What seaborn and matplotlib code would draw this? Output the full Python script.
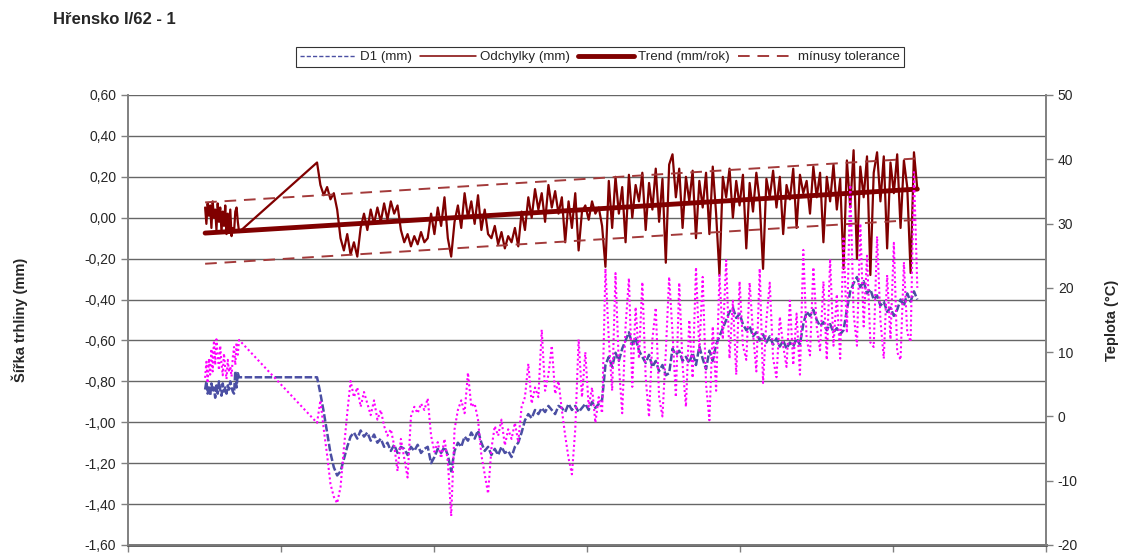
import numpy as np
import pandas as pd
import seaborn as sns
import matplotlib.pyplot as plt
from matplotlib.lines import Line2D
from matplotlib.ticker import FuncFormatter, MultipleLocator

# dny měření od začátku osy: krátké první období a hlavní období
DEN_A_START, DEN_A_KROK = 184, 3
DEN_B_START, DEN_B_KROK = 451, 8

odchylky_a = [0.05, -0.03, 0.07, 0.01, 0.06, -0.05, 0.08, 0.00, 0.04, -0.06,
              0.07, -0.02, 0.05, -0.07, 0.03, -0.04, 0.06, -0.08, 0.02, -0.06,
              0.04, -0.09, -0.05, -0.07, 0.03, 0.05, -0.02, -0.07]
odchylky_b = [0.27, 0.16, 0.11, 0.15, 0.09, 0.12, 0.04, -0.10,
              -0.16, -0.08, -0.18, -0.12, -0.19,
              -0.05, 0.02, -0.06, 0.04, -0.03, 0.05, -0.02,
              0.07, -0.01, 0.08, 0.02, 0.06,
              -0.06, -0.12, -0.08, -0.14, -0.09, -0.13, -0.07, -0.12, -0.10,
              0.02, -0.08, 0.05, -0.04, 0.10, -0.10, -0.19,
              -0.02, 0.06, -0.05, 0.12, 0.00,
              0.08, -0.03, 0.11, -0.06, 0.04, -0.08,
              -0.10, -0.04, -0.13, -0.07, -0.15, -0.09, -0.12, -0.05, -0.14,
              0.03, -0.06, 0.10, 0.00, 0.14, 0.04,
              0.12, -0.02, 0.16, 0.05, 0.13, 0.02,
              0.10, -0.12, 0.08, -0.05, 0.12, -0.16, 0.03,
              0.06, -0.01, 0.08, 0.02, 0.05, -0.04,
              -0.24,
              0.18, -0.05, 0.20, 0.02, 0.15, -0.12, 0.21, 0.00, 0.16,
              0.08, 0.22, -0.06, 0.17, 0.04, 0.24, -0.02, 0.19, -0.22, 0.26,
              0.31, 0.10, 0.24, -0.05, 0.20, 0.08, 0.23, -0.10, 0.18,
              0.05, 0.22, -0.08, 0.25, 0.02, -0.28, 0.20, 0.10, 0.24, 0.00, 0.18,
              0.06, 0.21, -0.15, 0.17, 0.03, 0.22, 0.08, -0.25, 0.19, 0.10,
              0.23, 0.05, 0.20, -0.08, 0.16, 0.09, 0.24, -0.05, 0.21, 0.12,
              0.18, 0.02, 0.25, 0.10, 0.22, -0.12, 0.20, 0.08, 0.26, 0.04, 0.19,
              -0.25, 0.28, 0.05, 0.33, -0.20, 0.25, 0.10, 0.30, -0.28, 0.22,
              0.32, 0.08, 0.30, -0.15, 0.27, 0.12, 0.31, -0.05, 0.28, 0.15, -0.27, 0.32, 0.14]

d1_a = [-0.84, -0.80, -0.86, -0.82, -0.87, -0.81, -0.85, -0.83, -0.88, -0.82,
        -0.86, -0.80, -0.84, -0.87, -0.81, -0.85, -0.83, -0.86, -0.82, -0.84,
        -0.80, -0.83, -0.85, -0.86, -0.75, -0.83, -0.76, -0.78]
d1_b = [-0.78, -0.86, -0.95, -1.05, -1.15, -1.22, -1.26, -1.24,
        -1.18, -1.12, -1.07,
        -1.05, -1.08, -1.04, -1.07, -1.05, -1.09, -1.06, -1.10, -1.08,
        -1.12, -1.10, -1.14, -1.11, -1.15, -1.12, -1.13, -1.16, -1.12, -1.14, -1.11, -1.15, -1.13, -1.12,
        -1.20, -1.17,
        -1.13, -1.15, -1.12, -1.16, -1.24,
        -1.14, -1.10, -1.12, -1.07, -1.09, -1.05, -1.08, -1.04,
        -1.10, -1.14, -1.12, -1.16,
        -1.13, -1.16, -1.12, -1.15, -1.14, -1.17, -1.12, -1.10,
        -1.05, -0.99, -0.96, -0.98, -0.94, -0.96,
        -0.93, -0.95, -0.92, -0.94, -0.96, -0.92, -0.93, -0.95, -0.91, -0.94, -0.92, -0.95, -0.93,
        -0.91, -0.94, -0.90, -0.93, -0.91, -0.89,
        -0.72, -0.68, -0.73, -0.66, -0.70,
        -0.64, -0.60, -0.56, -0.62, -0.59, -0.65,
        -0.68, -0.71, -0.67, -0.73, -0.70, -0.75, -0.72, -0.77, -0.76,
        -0.64, -0.67, -0.65, -0.70, -0.68, -0.71,
        -0.66, -0.72, -0.63, -0.69, -0.74, -0.65, -0.70, -0.62, -0.58,
        -0.54, -0.50, -0.46, -0.44, -0.49, -0.47,
        -0.52, -0.55, -0.53, -0.58, -0.56, -0.60, -0.57, -0.61,
        -0.58, -0.62, -0.59, -0.63, -0.60, -0.64, -0.61, -0.63, -0.59, -0.62,
        -0.52, -0.46, -0.48, -0.45,
        -0.50, -0.53, -0.51, -0.55, -0.52, -0.56, -0.54, -0.57, -0.55,
        -0.45, -0.36, -0.32, -0.29, -0.34, -0.31,
        -0.37, -0.35, -0.40, -0.38, -0.43, -0.41, -0.46, -0.44, -0.48, -0.45,
        -0.40, -0.43, -0.37, -0.41, -0.36, -0.40]

teplota_a = [6.0, 8.5, 5.2, 9.0, 6.5, 10.5, 7.0, 11.8, 8.0, 12.0,
             9.5, 7.2, 11.0, 8.3, 6.4, 9.8, 7.5, 5.8, 8.8, 6.9,
             7.8, 6.2, 9.2, 10.8, 8.0, 11.5, 9.6, 11.9]
teplota_b = [-1.0, 2.5, -2.0, -6.0, -10.5, -12.5, -13.5, -11.0,
             -5.0, 0.5, 5.5,
             3.0, 4.5, 1.5, 3.8, 2.0, 0.2, 2.5, -0.5, 1.0,
             -1.5, -3.0, -2.0, -4.5, -8.5, -3.5, -6.5, -9.5,
             0.0, 1.5, 0.5, 2.0, 1.0, 2.8,
             -3.0, -5.5, -4.0, -6.5, -3.5, -7.0, -15.5,
             -2.0, 1.0, 2.5, 0.5, 6.8, 1.5, 2.0, -0.5,
             -6.0, -9.0, -12.0, -5.0,
             -1.5, -3.0, -0.5, -4.5, -2.0, -3.5, -1.0, -4.0,
             1.5, 3.0, 8.2, 2.0, 4.5, 3.0,
             13.5, 4.0, 6.5, 11.0, 3.5, 5.5,
             1.0, -3.0, -6.5, -9.0, -2.0, 12.0, 3.0,
             10.0, 1.5, 4.5, -1.0, 3.0, 0.5,
             23.0,
             12.0, 4.0, 22.3, 8.0, 0.5, 14.0, 21.5, 4.6, 17.0, 9.0,
             20.9, 6.0, -0.1, 12.0, 16.9, 3.0, 0.0, 10.0, 21.7,
             13.0, 3.0, 20.8, 8.0, 1.5, 15.0, 6.0, 23.2, 10.0,
             21.7, 5.0, -0.6, 14.0, 4.0, 22.0,
             12.0, 24.3, 9.0, 18.0, 6.5, 21.0, 11.0, 8.8, 20.8, 13.0, 7.0, 23.0, 5.2, 15.0,
             20.8, 9.0, 6.1, 15.5, 11.0, 7.7, 18.0, 8.0, 16.0, 6.5,
             25.9, 12.0, 9.5, 23.2, 14.0, 10.3, 21.0, 8.8, 24.5, 11.0, 19.0, 9.0,
             28.0, 13.0, 36.0, 16.0, 11.0, 30.0, 14.0,
             25.0, 11.5, 10.8, 28.0, 15.0, 9.0, 22.0, 12.0, 27.0, 10.0, 8.8, 24.0, 13.0, 11.6, 38.0, 20.0]

# trend a tolerance (začátek a konec měření)
trend_den = [184, 1883]
trend = [-0.075, 0.14]
tolerance_plus = [0.075, 0.29]
tolerance_minus = [-0.225, -0.01]

RED = "#800000"
TOL = "#a33a3a"
BLUE = "#4b4fa3"
MAG = "#ff00ff"

den = np.concatenate([
    DEN_A_START + DEN_A_KROK * np.arange(len(d1_a)),
    DEN_B_START + DEN_B_KROK * np.arange(len(d1_b)),
])
df = pd.DataFrame({
    "den": den,
    "d1": d1_a + d1_b,
    "odchylky": odchylky_a + odchylky_b,
    "teplota": teplota_a + teplota_b,
})
df_trend = pd.DataFrame({"den": trend_den, "trend": trend,
                         "plus": tolerance_plus, "minus": tolerance_minus})

sns.set_theme(style="white")
plt.rcParams["font.family"] = ["Liberation Sans", "DejaVu Sans"]

fig = plt.figure(figsize=(11.3, 5.55), dpi=100)
ax = fig.add_axes([128 / 1130, 10 / 555, 918 / 1130, 450 / 555])
ax2 = ax.twinx()

sns.lineplot(data=df, x="den", y="d1", ax=ax, color=BLUE, linewidth=1.8,
             linestyle=(0, (3, 1)))
sns.lineplot(data=df, x="den", y="odchylky", ax=ax, color=RED, linewidth=1.6)
sns.lineplot(data=df_trend, x="den", y="trend", ax=ax, color=RED, linewidth=3.5)
sns.lineplot(data=df_trend, x="den", y="plus", ax=ax, color=TOL, linewidth=1.4,
             linestyle=(0, (6, 4)))
sns.lineplot(data=df_trend, x="den", y="minus", ax=ax, color=TOL, linewidth=1.4,
             linestyle=(0, (6, 4)))
sns.lineplot(data=df, x="den", y="teplota", ax=ax2, color=MAG, linewidth=1.5,
             linestyle=(0, (1, 1.3)))

ax.set_xlim(0, 2190)
ax.set_ylim(-1.6, 0.6)
ax2.set_ylim(-20, 50)
ax.xaxis.set_major_locator(MultipleLocator(365))
ax.set_xticklabels([])
ax.yaxis.set_major_locator(MultipleLocator(0.2))
ax2.yaxis.set_major_locator(MultipleLocator(10))
ax.yaxis.set_major_formatter(FuncFormatter(lambda v, p: f"{v:.2f}".replace(".", ",")))
ax2.yaxis.set_major_formatter(FuncFormatter(lambda v, p: f"{v:.0f}"))
ax.set_xlabel("")
ax.set_ylabel("")
ax2.set_ylabel("")

ax.grid(axis="y", color="#666666", linewidth=1)
ax.grid(axis="x", visible=False)
ax.set_axisbelow(True)

for a in (ax, ax2):
    for s in a.spines.values():
        s.set_color("#808080")
        s.set_linewidth(1.2)
    a.spines["top"].set_visible(False)
ax.spines["bottom"].set_color("#555555")
ax.spines["bottom"].set_linewidth(2)

ax.tick_params(axis="y", direction="out", length=5, width=1, color="#808080",
               labelsize=10, left=True)
ax.tick_params(axis="x", direction="out", length=5, width=1, color="#808080", bottom=True)
ax2.tick_params(axis="y", direction="out", length=5, width=1, color="#808080",
                labelsize=10, right=True)

fig.text(53 / 1130, 1 - 20 / 555, "Hřensko I/62 - 1", fontsize=12,
         fontweight="bold", va="center", ha="left")
fig.text(20 / 1130, 1 - 320 / 555, "Šířka trhliny (mm)", rotation=90,
         fontsize=10.5, fontweight="bold", va="center", ha="center")
fig.text(1112 / 1130, 1 - 320 / 555, "Teplota (°C)", rotation=90,
         fontsize=10.5, fontweight="bold", va="center", ha="center")

handles = [
    Line2D([], [], color=BLUE, linewidth=1, linestyle=(0, (3, 1.5))),
    Line2D([], [], color=RED, linewidth=1.1),
    Line2D([], [], color=RED, linewidth=3.5),
    Line2D([], [], color=TOL, linewidth=1.4, linestyle=(0, (6, 4))),
]
labels = ["D1 (mm)", "Odchylky (mm)", "Trend (mm/rok)", "mínusy tolerance"]
for a in (ax, ax2):
    if a.get_legend() is not None:
        a.get_legend().remove()
leg = fig.legend(handles, labels, loc="center", ncol=4,
                 bbox_to_anchor=(600 / 1130, 1 - 57 / 555), frameon=True,
                 fancybox=False, edgecolor="black", fontsize=9.6,
                 handlelength=4.2, handletextpad=0.3, columnspacing=0.6,
                 borderpad=0.3)
leg.get_frame().set_linewidth(0.8)

fig.savefig("out.png", dpi=100)
